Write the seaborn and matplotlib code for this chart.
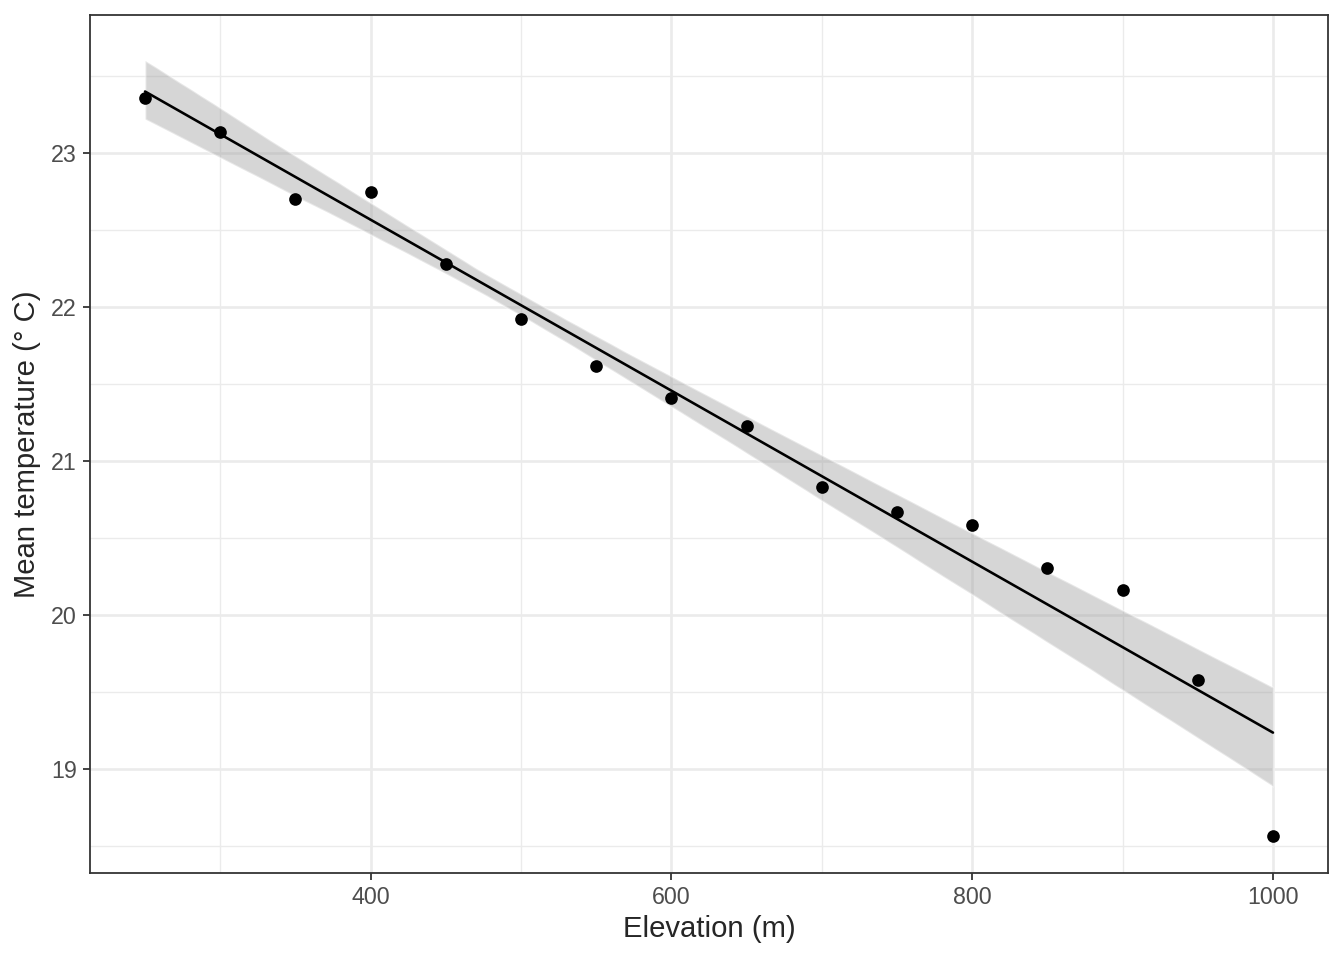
import numpy as np
import pandas as pd
import matplotlib.pyplot as plt
import seaborn as sns
from matplotlib.ticker import MultipleLocator

# Elevation vs mean temperature
elevation = [250, 300, 350, 400, 450, 500, 550, 600, 650, 700, 750, 800, 850, 900, 950, 1000]
mean_temp = [23.36, 23.135, 22.70, 22.745, 22.28, 21.92, 21.617, 21.41, 21.227,
             20.83, 20.668, 20.585, 20.305, 20.162, 19.578, 18.565]

df = pd.DataFrame({'elevation': elevation, 'temp': mean_temp})

sns.set_style('white')
plt.rcParams['font.family'] = ['Liberation Sans', 'DejaVu Sans']

fig = plt.figure(figsize=(1344 / 144, 960 / 144), dpi=144)
ax = fig.add_axes([90 / 1344, 1 - 873 / 960, (1328 - 90) / 1344, (873 - 15) / 960])

sns.regplot(data=df, x='elevation', y='temp', ax=ax, ci=95, n_boot=2000, seed=1,
            scatter_kws={'s': 40, 'color': 'black', 'alpha': 1, 'linewidths': 0, 'zorder': 4},
            line_kws={'color': 'black', 'lw': 1.3, 'zorder': 3},
            color='#999999')
# ggplot-like ribbon colour
ax.collections[-1].set_facecolor('#999999')
ax.collections[-1].set_alpha(0.4)

ax.set_xlim(213.4, 1036.6)
ax.set_ylim(18.325, 23.896)
ax.xaxis.set_major_locator(MultipleLocator(200))
ax.xaxis.set_minor_locator(MultipleLocator(100))
ax.yaxis.set_major_locator(MultipleLocator(1))
ax.yaxis.set_minor_locator(MultipleLocator(0.5))
ax.grid(which='major', color='#ebebeb', lw=1.3)
ax.grid(which='minor', color='#ebebeb', lw=0.7)
ax.set_axisbelow(True)

for s in ax.spines.values():
    s.set_color('#333333')
    s.set_linewidth(0.9)

ax.tick_params(which='major', length=3.5, width=0.9, color='#333333',
               labelsize=11.6, labelcolor='#4d4d4d', bottom=True, left=True, pad=3)
ax.tick_params(which='minor', length=0)
ax.set_xlabel('Elevation (m)', fontsize=14.6, labelpad=3)
ax.set_ylabel('Mean temperature (° C)', fontsize=14.6, labelpad=5)

fig.savefig('out.png', dpi=144)
